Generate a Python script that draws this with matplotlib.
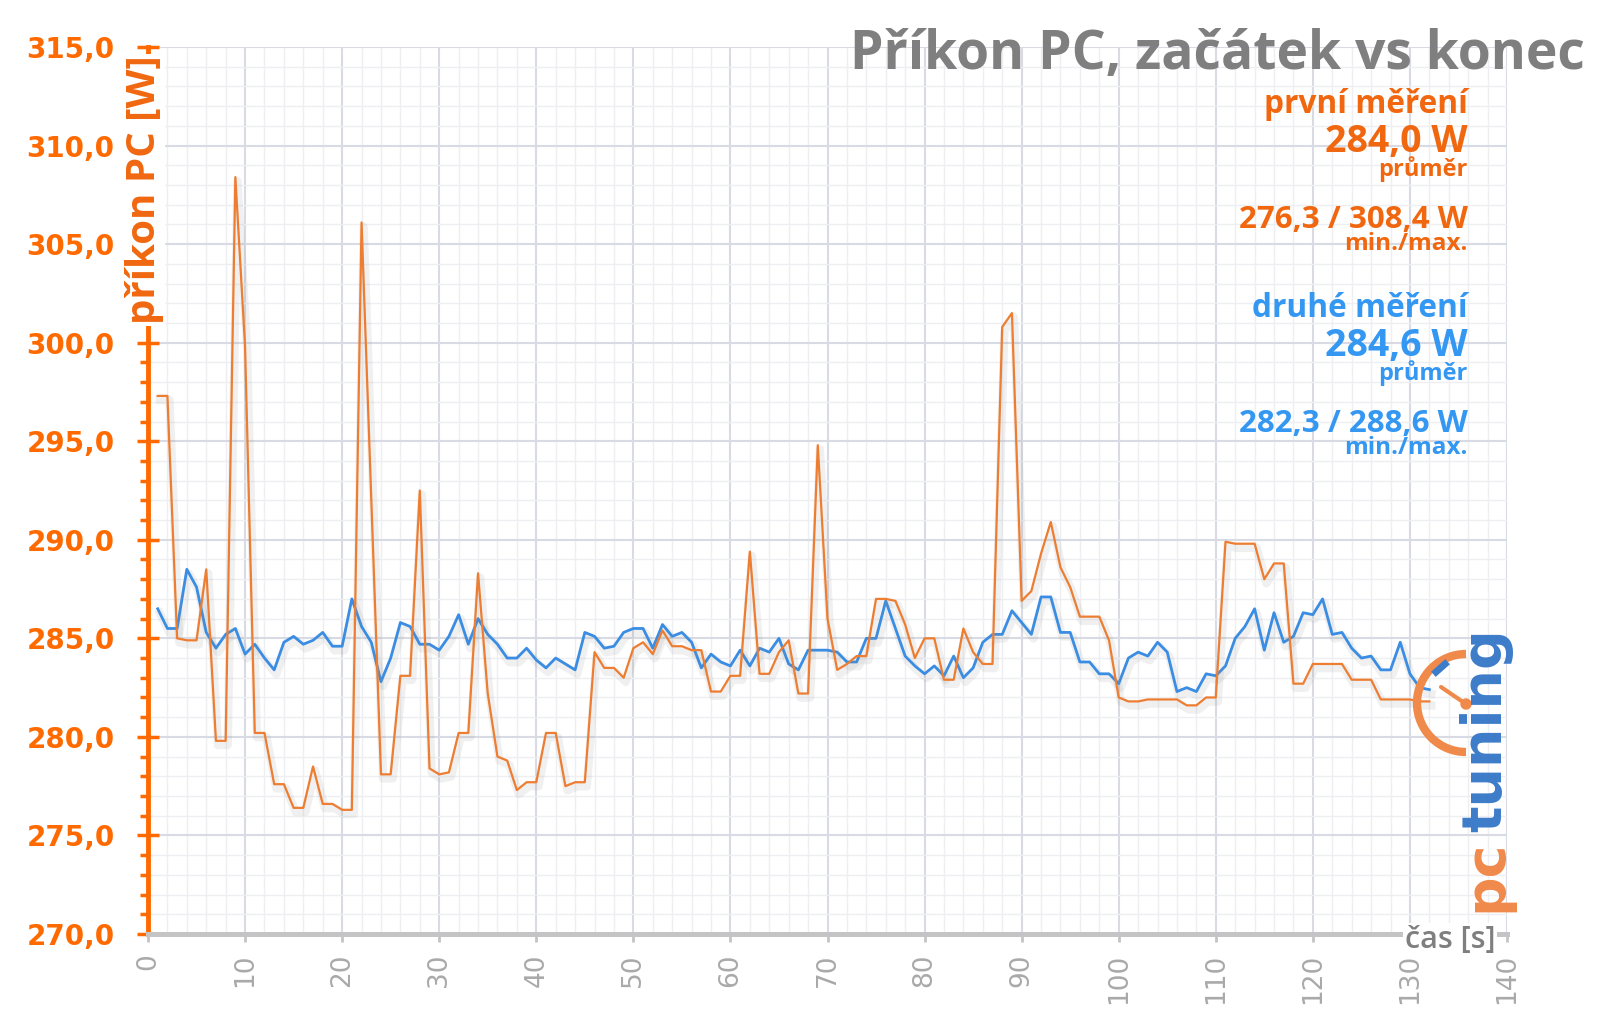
import matplotlib
matplotlib.use('Agg')
import matplotlib.pyplot as plt
import matplotlib.patheffects as pe
from matplotlib.patches import Arc, Circle
from matplotlib.ticker import MultipleLocator, FuncFormatter

# casova osa [s]
seconds = list(range(1, 133))

# prvni mereni (oranzova)
prvni = [297.3, 297.3, 285.0, 284.9, 284.9, 288.5, 279.8, 279.8, 308.4, 299.8,
         280.2, 280.2, 277.6, 277.6, 276.4, 276.4, 278.5, 276.6, 276.6, 276.3,
         276.3, 306.1, 292.1, 278.1, 278.1, 283.1, 283.1, 292.5, 278.4, 278.1,
         278.2, 280.2, 280.2, 288.3, 282.2, 279.0, 278.8, 277.3, 277.7, 277.7,
         280.2, 280.2, 277.5, 277.7, 277.7, 284.3, 283.5, 283.5, 283.0, 284.5,
         284.8, 284.2, 285.4, 284.6, 284.6, 284.4, 284.4, 282.3, 282.3, 283.1,
         283.1, 289.4, 283.2, 283.2, 284.3, 284.9, 282.2, 282.2, 294.8, 286.0,
         283.4, 283.7, 284.1, 284.1, 287.0, 287.0, 286.9, 285.7, 284.0, 285.0,
         285.0, 282.9, 282.9, 285.5, 284.3, 283.7, 283.7, 300.8, 301.5, 286.9,
         287.4, 289.3, 290.9, 288.6, 287.6, 286.1, 286.1, 286.1, 284.9, 282.0,
         281.8, 281.8, 281.9, 281.9, 281.9, 281.9, 281.6, 281.6, 282.0, 282.0,
         289.9, 289.8, 289.8, 289.8, 288.0, 288.8, 288.8, 282.7, 282.7, 283.7,
         283.7, 283.7, 283.7, 282.9, 282.9, 282.9, 281.9, 281.9, 281.9, 281.9,
         281.8, 281.8]

# druhe mereni (modra)
druhe = [286.5, 285.5, 285.5, 288.5, 287.6, 285.3, 284.5, 285.2, 285.5, 284.2,
         284.7, 284.0, 283.4, 284.8, 285.1, 284.7, 284.9, 285.3, 284.6, 284.6,
         287.0, 285.6, 284.8, 282.8, 284.0, 285.8, 285.6, 284.7, 284.7, 284.4,
         285.1, 286.2, 284.7, 286.0, 285.2, 284.7, 284.0, 284.0, 284.5, 283.9,
         283.5, 284.0, 283.7, 283.4, 285.3, 285.1, 284.5, 284.6, 285.3, 285.5,
         285.5, 284.5, 285.7, 285.1, 285.3, 284.8, 283.5, 284.2, 283.8, 283.6,
         284.4, 283.6, 284.5, 284.3, 285.0, 283.7, 283.4, 284.4, 284.4, 284.4,
         284.3, 283.8, 283.8, 285.0, 285.0, 286.9, 285.5, 284.1, 283.6, 283.2,
         283.6, 283.1, 284.1, 283.0, 283.5, 284.8, 285.2, 285.2, 286.4, 285.8,
         285.2, 287.1, 287.1, 285.3, 285.3, 283.8, 283.8, 283.2, 283.2, 282.7,
         284.0, 284.3, 284.1, 284.8, 284.3, 282.3, 282.5, 282.3, 283.2, 283.1,
         283.6, 285.0, 285.6, 286.5, 284.4, 286.3, 284.8, 285.1, 286.3, 286.2,
         287.0, 285.2, 285.3, 284.5, 284.0, 284.1, 283.4, 283.4, 284.8, 283.2,
         282.5, 282.4]

title = 'Příkon PC, začátek vs konec'
stats = [
    ('první měření', '284,0 W', '276,3 / 308,4 W'),
    ('druhé měření', '284,6 W', '282,3 / 288,6 W'),
]

ORANGE = '#ED7D31'
ORANGE_TXT = '#F0670F'
ORANGE_AX = '#FF6A00'
BLUE = '#3A8DE3'
BLUE_TXT = '#3497F2'
GRAY = '#7F7F7F'

W, H = 1600, 1017
fig = plt.figure(figsize=(W / 100, H / 100), dpi=100)
ax = fig.add_axes([148 / W, 1 - 934 / H, 1359 / W, 887 / H])

shadow = [pe.SimpleLineShadow(offset=(1.5, -3), shadow_color='#888888', alpha=0.12, linewidth=6), pe.Normal()]
ax.plot(seconds, druhe, color=BLUE, lw=2.0, zorder=3, path_effects=shadow)
ax.plot(seconds, prvni, color=ORANGE, lw=1.6, zorder=4, path_effects=shadow)

ax.set_xlim(0, 140)
ax.set_ylim(270, 315)
ax.xaxis.set_major_locator(MultipleLocator(10))
ax.xaxis.set_minor_locator(MultipleLocator(2))
ax.yaxis.set_major_locator(MultipleLocator(5))
ax.yaxis.set_minor_locator(MultipleLocator(1))
ax.yaxis.set_major_formatter(FuncFormatter(lambda v, _: f'{v:.1f}'.replace('.', ',')))

ax.grid(which='major', color='#D8DBE3', lw=1.5, zorder=0)
ax.grid(which='minor', color='#EEEFF3', lw=1.0, zorder=0)
ax.set_axisbelow(True)

for s in ('top', 'right'):
    ax.spines[s].set_visible(False)
ax.spines['left'].set_color(ORANGE_AX)
ax.spines['left'].set_linewidth(3.5)
ax.spines['bottom'].set_color('#C4C4C4')
ax.spines['bottom'].set_linewidth(3.6)

ax.tick_params(axis='y', which='major', direction='inout', length=16, width=2.5,
               color=ORANGE_AX, pad=16, labelsize=20, labelcolor=ORANGE_AX)
ax.tick_params(axis='y', which='minor', direction='out', length=6, width=2.5, color=ORANGE_AX)
ax.tick_params(axis='x', which='major', direction='out', length=6, width=2,
               color='#C4C4C4', pad=8, labelsize=19, labelcolor='#A9A9A9', labelrotation=90)
ax.tick_params(axis='x', which='minor', length=0)
for lbl in ax.get_yticklabels():
    lbl.set_fontweight('bold')

# popisky os
fig.text(144 / W, 1 - 190 / H, 'příkon PC [W]', rotation=90, ha='center', va='center',
         fontsize=29, fontweight='bold', family='Open Sans', color=ORANGE_TXT,
         bbox=dict(facecolor='white', edgecolor='none', pad=1))
fig.text(1450 / W, 1 - 940 / H, 'čas [s]', ha='center', va='center',
         fontsize=22, fontweight='semibold', family='Open Sans', color=GRAY,
         bbox=dict(facecolor='white', edgecolor='none', pad=1))

fig.text(1585 / W, 1 - 69 / H, title, ha='right', va='baseline',
         fontsize=38.5, fontweight='bold', family='Open Sans', color=GRAY)

# statistiky vpravo nahore
xr = 1468 / W
for (name, avg, mm), col, y0 in zip(stats, [ORANGE_TXT, BLUE_TXT], [113, 317]):
    fig.text(xr, 1 - y0 / H, name, ha='right', va='baseline', fontsize=22.8,
             fontweight='bold', family='Open Sans', color=col)
    fig.text(xr, 1 - (y0 + 39) / H, avg, ha='right', va='baseline', fontsize=27,
             fontweight='bold', family='Open Sans', color=col)
    fig.text(xr, 1 - (y0 + 63) / H, 'průměr', ha='right', va='baseline', fontsize=17,
             fontweight='bold', family='Open Sans', color=col)
    fig.text(xr, 1 - (y0 + 115) / H, mm, ha='right', va='baseline', fontsize=22.5,
             fontweight='bold', family='Open Sans', color=col)
    fig.text(xr, 1 - (y0 + 137) / H, 'min./max.', ha='right', va='baseline', fontsize=17.5,
             fontweight='bold', family='Open Sans', color=col)

# logo pctuning
lax = fig.add_axes([0, 0, 1, 1], zorder=5)
lax.set_xlim(0, W)
lax.set_ylim(H, 0)
lax.axis('off')
lax.add_patch(Arc((1466, 703), 98, 98, theta1=90, theta2=270, color='#F08A4B', lw=6))
lax.plot([1441, 1466], [687, 704], color='#F08A4B', lw=3, solid_capstyle='round')
lax.add_patch(Circle((1466, 704), 5, color='#F08A4B'))
lax.plot([1436, 1445], [672, 664], color='#3D7CC9', lw=5)
lax.text(1486, 912, 'pc', rotation=90, rotation_mode='anchor', ha='left', va='center',
         fontsize=40, fontweight='bold', color='#F08A4B')
lax.text(1486, 832, 'tuning', rotation=90, rotation_mode='anchor', ha='left', va='center',
         fontsize=40, fontweight='bold', color='#3D7CC9')

fig.savefig('out.png', dpi=100, facecolor='white')
